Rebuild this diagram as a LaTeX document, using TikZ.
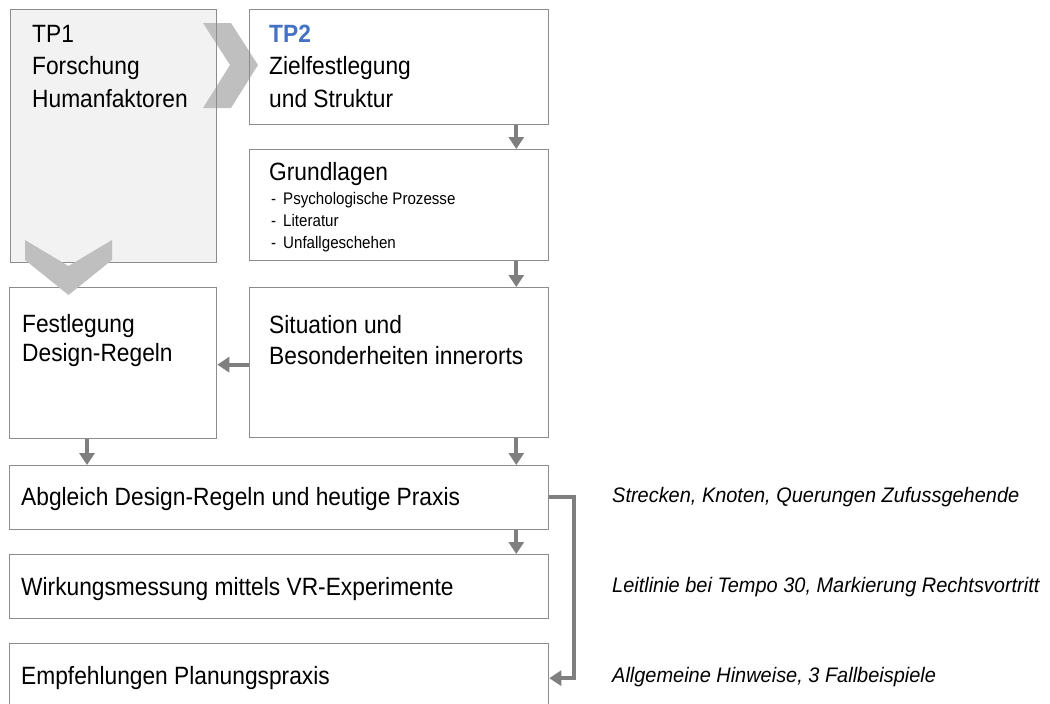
\documentclass[tikz,border=0pt]{standalone}
\usepackage{fontspec}
\setmainfont{Liberation Sans}[FakeStretch=0.91]
\newfontfamily\smallfam{Liberation Sans}[FakeStretch=0.9]
\newfontfamily\notefam{Liberation Sans}[FakeStretch=0.95]
\usetikzlibrary{arrows.meta}
\definecolor{boxline}{HTML}{8C8C8C}
\definecolor{connline}{HTML}{7F7F7F}
\definecolor{chevfill}{HTML}{BFBFBF}
\definecolor{tpfill}{HTML}{F2F2F2}
\definecolor{tpblue}{HTML}{4472C4}
\tikzset{
  stagebox/.style={draw=boxline, line width=1.3pt, inner sep=0pt, anchor=north west},
  boxtext/.style={anchor=base west, inner sep=0pt, font=\fontsize{25}{30}\selectfont},
  smalltext/.style={anchor=base west, inner sep=0pt, font=\smallfam\fontsize{16.8}{20}\selectfont},
  notetext/.style={anchor=base west, inner sep=0pt, font=\notefam\fontsize{21}{25}\selectfont\itshape},
  conn/.style={draw=connline, line width=4pt, -{Triangle[width=15pt,length=12pt]}},
  chevron/.style={fill=chevfill, draw=none}
}
\begin{document}
\begin{tikzpicture}[x=1pt, y=-1pt]
\useasboundingbox (0,0) rectangle (1050,704);
\clip (0,0) rectangle (1050,704);

% shaded background of TP1 and the chevron leading to TP2
\fill[tpfill] (10,9) rectangle (216,262);
\fill[chevron] (203,23) -- (231,23) -- (258,65) -- (231,108) -- (203,108) -- (230,65) -- cycle;

% boxes
\node[stagebox, minimum width=206pt, minimum height=253pt] (tp1) at (10,9) {};
\node[stagebox, minimum width=299pt, minimum height=115pt] (tp2) at (249,9) {};
\node[stagebox, minimum width=299pt, minimum height=111pt] (grund) at (249,149) {};
\node[stagebox, minimum width=207pt, minimum height=151pt] (fest) at (9,287) {};
\node[stagebox, minimum width=299pt, minimum height=150pt] (sit) at (249,287) {};
\node[stagebox, minimum width=539pt, minimum height=64pt] (abg) at (9,465) {};
\node[stagebox, minimum width=539pt, minimum height=64pt] (wirk) at (9,554) {};
\node[stagebox, minimum width=539pt, minimum height=77pt] (empf) at (9,643) {};

% texts in the boxes
\node[boxtext] (t1a) at (32,42) {TP1};
\node[boxtext] (t1b) at (32,74) {Forschung};
\node[boxtext] (t1c) at (32,107) {Humanfaktoren};

\node[boxtext, text=tpblue, font=\fontsize{25}{30}\selectfont\bfseries] (t2a) at (269,42) {TP2};
\node[boxtext] (t2b) at (269,74) {Zielfestlegung};
\node[boxtext] (t2c) at (269,107) {und Struktur};

\node[boxtext] (g0) at (269,180) {Grundlagen};
\node[smalltext] (g1d) at (271,204) {-};
\node[smalltext] (g1) at (283,204) {Psychologische Prozesse};
\node[smalltext] (g2d) at (271,226) {-};
\node[smalltext] (g2) at (283,226) {Literatur};
\node[smalltext] (g3d) at (271,248) {-};
\node[smalltext] (g3) at (283,248) {Unfallgeschehen};

\node[boxtext] (f1) at (22,332) {Festlegung};
\node[boxtext] (f2) at (22,361) {Design-Regeln};

\node[boxtext] (s1) at (269,333) {Situation und};
\node[boxtext] (s2) at (269,364) {Besonderheiten innerorts};

\node[boxtext] (a1) at (21,505) {Abgleich Design-Regeln und heutige Praxis};
\node[boxtext] (w1) at (21,595) {Wirkungsmessung mittels VR-Experimente};
\node[boxtext] (e1) at (21,684) {Empfehlungen Planungspraxis};

% notes on the right
\node[notetext] (n1) at (612,502) {Strecken, Knoten, Querungen Zufussgehende};
\node[notetext] (n2) at (612,592) {Leitlinie bei Tempo 30, Markierung Rechtsvortritt};
\node[notetext] (n3) at (612,682) {Allgemeine Hinweise, 3 Fallbeispiele};

% connectors
\draw[conn] ([xshift=-33pt]tp2.south east) -- ([xshift=-33pt]grund.north east);
\draw[conn] ([xshift=-33pt]grund.south east) -- ([xshift=-33pt]sit.north east);
\draw[conn] ([yshift=-2pt]sit.west) -- ([yshift=-2pt]sit.west -| fest.east);
\draw[conn] ([xshift=78pt]fest.south west) -- ([xshift=78pt]fest.south west |- abg.north);
\draw[conn] ([xshift=-33pt]sit.south east) -- ([xshift=-33pt]abg.north east);
\draw[conn] ([xshift=-33pt]abg.south east) -- ([xshift=-33pt]wirk.north east);
\draw[conn] ([yshift=0.5pt]abg.east) -- ++(25,0) |- ([yshift=4pt]empf.east);

% chevron from TP1 down to the design rules
\fill[chevron] (25,240) -- (68.5,266) -- (112,240) -- (112,260) -- (68.5,295) -- (25,260) -- cycle;
\end{tikzpicture}
\end{document}
